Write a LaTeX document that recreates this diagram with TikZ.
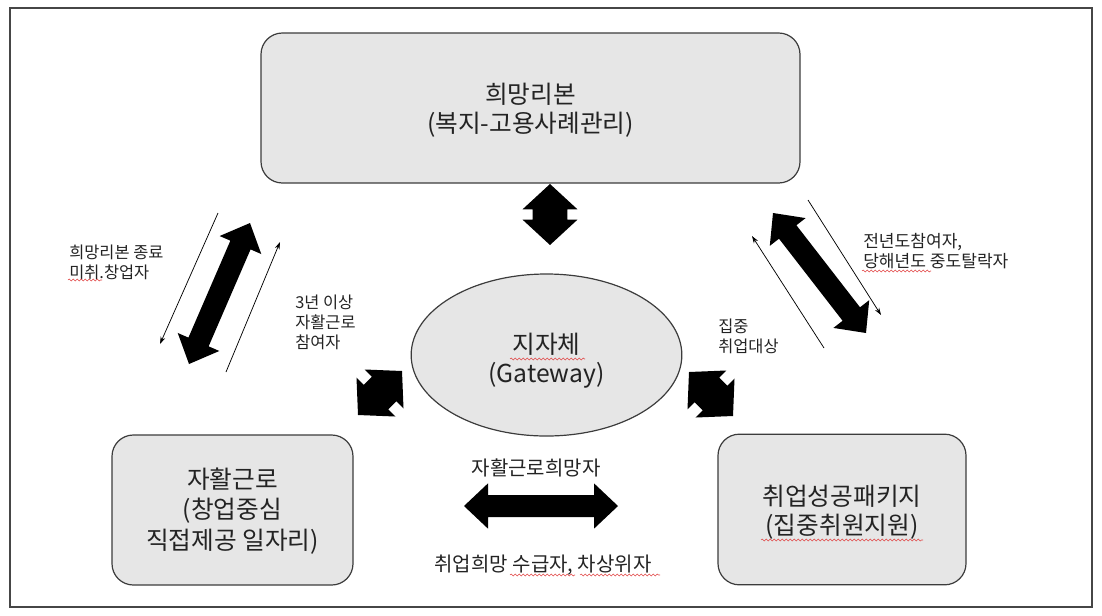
\documentclass[tikz,border=0pt]{standalone}
\usepackage{fontspec}
\setmainfont{Noto Sans CJK KR}
\usetikzlibrary{shapes.geometric,calc,arrows.meta,decorations.pathmorphing}
\definecolor{boxfill}{RGB}{230,230,230}
\definecolor{edge}{RGB}{60,60,60}
\definecolor{framec}{RGB}{70,70,70}
\definecolor{txt}{RGB}{35,35,35}
\definecolor{squig}{RGB}{225,70,70}
\newcommand\fbig{\fontsize{18.5}{21.8}\selectfont}
\newcommand\fsmall{\fontsize{12.3}{15}\selectfont}
\newcommand\fsmallb{\fontsize{12.8}{15}\selectfont}
\newcommand\fmid{\fontsize{15}{18}\selectfont}
% block double arrow between two named tips: #3 head length, #4 head half width, #5 shaft half width
\newcommand\dblblock[5]{%
  \coordinate (ba1) at ($(#1)!#3!(#2)$);
  \coordinate (ba2) at ($(#2)!#3!(#1)$);
  \fill[black] (#1) -- ($(ba1)!#4!90:(#2)$) -- ($(ba1)!#5!90:(#2)$)
    -- ($(ba2)!#5!-90:(#1)$) -- ($(ba2)!#4!-90:(#1)$) -- (#2)
    -- ($(ba2)!#4!90:(#1)$) -- ($(ba2)!#5!90:(#1)$)
    -- ($(ba1)!#5!-90:(#2)$) -- ($(ba1)!#4!-90:(#2)$) -- cycle;}
\begin{document}
\begin{tikzpicture}[x=0.75pt,y=-0.75pt,
  box/.style={draw=edge, line width=0.9pt, fill=boxfill, rounded corners=16pt, inner sep=0pt},
  gate/.style={ellipse, draw=edge, line width=0.9pt, fill=boxfill, inner sep=0pt},
  btext/.style={align=center, text=txt, font=\fbig, inner sep=0pt},
  lbl/.style={align=left, anchor=west, text=txt, font=\fsmall, inner sep=0pt},
  mlbl/.style={align=center, text=txt, font=\fmid, inner sep=0pt},
  thinarrow/.style={line width=0.55pt, -{Stealth[length=5.5pt,width=3.6pt]}},
  squiggle/.style={draw=squig, line width=0.4pt, decorate, decoration={snake, segment length=3pt, amplitude=0.7pt}}
]
\useasboundingbox (0,0) rectangle (1102,615);
\draw[framec, line width=0.8pt] (10,8) rectangle (1092,607);

% boxes
\node[box, minimum width=404.25pt, minimum height=112.5pt] (hope) at (530.5,108) {};
\node[gate, minimum width=203pt, minimum height=121.5pt] (gw) at (546.5,355) {};
\node[box, minimum width=180.75pt, minimum height=112.5pt] (work) at (232.5,510) {};
\node[box, minimum width=186pt, minimum height=113pt] (pkg) at (842,509.5) {};
\node[btext, yshift=-1.5pt] (hopet) at (hope.center) {희망리본\\(복지-고용사례관리)};
\node[btext, yshift=-4.5pt] (gwt) at (gw.center) {지자체\\(Gateway)};
\node[btext, yshift=-0.8pt, font=\fontsize{18.5}{23}\selectfont] (workt) at (work.center) {자활근로\\(창업중심\\직접제공 일자리)};
\node[btext, yshift=-2.2pt] (pkgt) at (pkg.center) {취업성공패키지\\(집중취원지원)};

% block arrow tips
\coordinate (t1) at (550,184);  \coordinate (t2) at (550,245);
\coordinate (l1) at (250,223);  \coordinate (l2) at (189,364);
\coordinate (r1) at (773,213);  \coordinate (r2) at (866,333);
\coordinate (h1) at (464,506);  \coordinate (h2) at (618,506);
\coordinate (sl1) at (402,371); \coordinate (sl2) at (358,415);
\coordinate (sr1) at (689,372); \coordinate (sr2) at (733,416);
\dblblock{t1}{t2}{19pt}{20.6pt}{13pt}
\dblblock{sl1}{sl2}{19pt}{20.6pt}{13pt}
\dblblock{sr1}{sr2}{19pt}{20.6pt}{13pt}
\dblblock{l1}{l2}{18pt}{17pt}{8.25pt}
\dblblock{r1}{r2}{18pt}{17pt}{8.25pt}
\dblblock{h1}{h2}{18pt}{17pt}{8.25pt}

% thin arrows
\coordinate (a1) at (218,213); \coordinate (a2) at (160,344);
\coordinate (b1) at (226,372); \coordinate (b2) at (280,242);
\coordinate (c1) at (808,200); \coordinate (c2) at (881,315);
\coordinate (d1) at (824,348); \coordinate (d2) at (752,236);
\draw[thinarrow] (a1) -- (a2);
\draw[thinarrow] (b1) -- (b2);
\draw[thinarrow] (c1) -- (c2);
\draw[thinarrow] (d1) -- (d2);

% labels
\node[lbl] (lab1) at (69,262) {희망리본 종료\\미취.창업자};
\node[lbl] (lab2) at (295,322) {3년 이상\\자활근로\\참여자};
\node[lbl, font=\fsmallb] (lab3) at (863,251) {전년도참여자,\\당해년도 중도탈락자};
\node[lbl] (lab4) at (718,336) {집중\\취업대상};
\node[mlbl] (lab5) at (536,468) {자활근로희망자};
\node[mlbl] (lab6) at (543,565) {취업희망 수급자, 차상위자};

% spell-check squiggles
\draw[squiggle] (68,280) -- (102,280);
\draw[squiggle] (862,271) -- (931,271);
\draw[squiggle] (510,359) -- (585,359);
\draw[squiggle] (761,540) -- (923,540);
\draw[squiggle] (510,575) -- (575,575);
\draw[squiggle] (580,575) -- (660,575);
\end{tikzpicture}
\end{document}
